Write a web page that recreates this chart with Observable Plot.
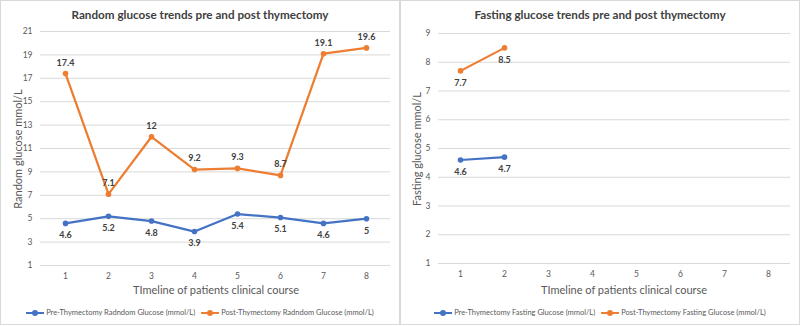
<!DOCTYPE html>
<html>
<head>
<meta charset="utf-8">
<script src="https://cdn.jsdelivr.net/npm/d3@7"></script>
<script src="https://cdn.jsdelivr.net/npm/@observablehq/plot@0.6"></script>
<style>
  html, body { margin: 0; padding: 0; background: #fff; }
  body { width: 800px; height: 326px; position: relative; overflow: hidden; font-family: Lato, "Open Sans", sans-serif; }
  .panel { position: absolute; top: 0; height: 325px; box-sizing: border-box; border: 1px solid #d9d9d9; background: #fff; }
  .panel svg { position: absolute; left: 0; top: 0; }
  .title { position: absolute; left: 0; right: 0; top: 6px; text-align: center; font-size: 11.7px; font-weight: 700; color: #404040; }
  .xtitle { position: absolute; top: 282px; font-size: 11px; color: #595959; transform: translateX(-50%); white-space: nowrap; }
  .ytitle { position: absolute; top: 148px; font-size: 11px; color: #595959; white-space: nowrap; transform: translate(-50%, -50%) rotate(-90deg); }
  .legend { position: absolute; left: 0; right: 0; top: 307px; display: flex; justify-content: center; gap: 6px; font-size: 7.5px; color: #595959; }
  .legend span { display: inline-flex; align-items: center; gap: 2px; }
  .swatch { display: inline-block; width: 18px; height: 8px; position: relative; }
  .swatch::before { content: ""; position: absolute; left: 0; right: 0; top: 3px; height: 2px; background: var(--c); }
  .swatch::after { content: ""; position: absolute; left: 6px; top: 1px; width: 6px; height: 6px; border-radius: 50%; background: var(--c); }
</style>
</head>
<body>
<div id="left" class="panel" style="left:0; width:400px;"></div>
<div id="right" class="panel" style="left:400px; width:400px;"></div>
<script>
// Timeline points of the clinical course
const timeline = [1, 2, 3, 4, 5, 6, 7, 8];

// Random glucose (mmol/L)
const preRandom = [4.6, 5.2, 4.8, 3.9, 5.4, 5.1, 4.6, 5];
const postRandom = [17.4, 7.1, 12, 9.2, 9.3, 8.7, 19.1, 19.6];

// Fasting glucose (mmol/L), recorded at the first two points only
const fastingTimeline = [1, 2];
const preFasting = [4.6, 4.7];
const postFasting = [7.7, 8.5];

// Y-axis tick values
const randomTicks = [1, 3, 5, 7, 9, 11, 13, 15, 17, 19, 21];
const fastingTicks = [1, 2, 3, 4, 5, 6, 7, 8, 9];

const BLUE = "#4472c4";
const ORANGE = "#ed7d31";
const FONT = "Lato, 'Open Sans', sans-serif";

function rows(xs, ys) {
  return xs.map((t, i) => ({t, v: ys[i]}));
}

function seriesMarks(data, color, labelDy) {
  return [
    Plot.line(data, {x: "t", y: "v", stroke: color, strokeWidth: 2.25}),
    Plot.dot(data, {x: "t", y: "v", fill: color, r: 2.8}),
    Plot.text(data, {x: "t", y: "v", text: d => String(d.v), dy: labelDy,
      fill: "#404040", fontWeight: "bold", fontSize: 9})
  ];
}

function panel(el, cfg) {
  const chart = Plot.plot({
    width: 398,
    height: 300,
    marginLeft: cfg.marginLeft,
    marginRight: 9,
    marginTop: cfg.marginTop,
    marginBottom: cfg.marginBottom,
    style: {fontFamily: FONT, fontSize: "8.5px", color: "#595959", background: "transparent"},
    x: {type: "point", domain: timeline, padding: 0.5, tickSize: 0, tickPadding: 7, label: null},
    y: {domain: cfg.domain, ticks: cfg.ticks, tickSize: 0, tickPadding: 8, label: null, tickFormat: d => String(d)},
    marks: [
      Plot.ruleY(cfg.ticks, {stroke: "#d9d9d9", strokeWidth: 1}),
      ...seriesMarks(cfg.pre, BLUE, 12),
      ...seriesMarks(cfg.post, ORANGE, cfg.postDy)
    ]
  });
  el.appendChild(chart);

  const title = document.createElement("div");
  title.className = "title";
  title.textContent = cfg.title;
  el.appendChild(title);

  const xt = document.createElement("div");
  xt.className = "xtitle";
  xt.style.left = cfg.xTitleX + "px";
  xt.textContent = "TImeline of patients clinical course";
  el.appendChild(xt);

  const yt = document.createElement("div");
  yt.className = "ytitle";
  yt.style.left = cfg.yTitleX + "px";
  yt.textContent = cfg.yTitle;
  el.appendChild(yt);

  const lg = document.createElement("div");
  lg.className = "legend";
  lg.innerHTML = cfg.legend.map(([c, t]) =>
    `<span><i class="swatch" style="--c:${c}"></i>${t}</span>`).join("");
  el.appendChild(lg);
}

panel(document.getElementById("left"), {
  title: "Random glucose trends pre and post thymectomy",
  yTitle: "Random glucose mmol/L",
  domain: [1, 21], ticks: randomTicks,
  marginLeft: 39, marginTop: 30, marginBottom: 36,
  pre: rows(timeline, preRandom),
  post: rows(timeline, postRandom),
  postDy: -11,
  xTitleX: 215, yTitleX: 16,
  legend: [[BLUE, "Pre-Thymectomy Radndom Glucose (mmol/L)"], [ORANGE, "Post-Thymectomy Radndom Glucose (mmol/L)"]]
});

panel(document.getElementById("right"), {
  title: "Fasting glucose trends pre and post thymectomy",
  yTitle: "Fasting glucose mmol/L",
  domain: [1, 9], ticks: fastingTicks,
  marginLeft: 37, marginTop: 32, marginBottom: 38,
  pre: rows(fastingTimeline, preFasting),
  post: rows(fastingTimeline, postFasting),
  postDy: 12,
  xTitleX: 223, yTitleX: 15,
  legend: [[BLUE, "Pre-Thymectomy Fasting Glucose (mmol/L)"], [ORANGE, "Post-Thymectomy Fasting Glucose (mmol/L)"]]
});
</script>
</body>
</html>
